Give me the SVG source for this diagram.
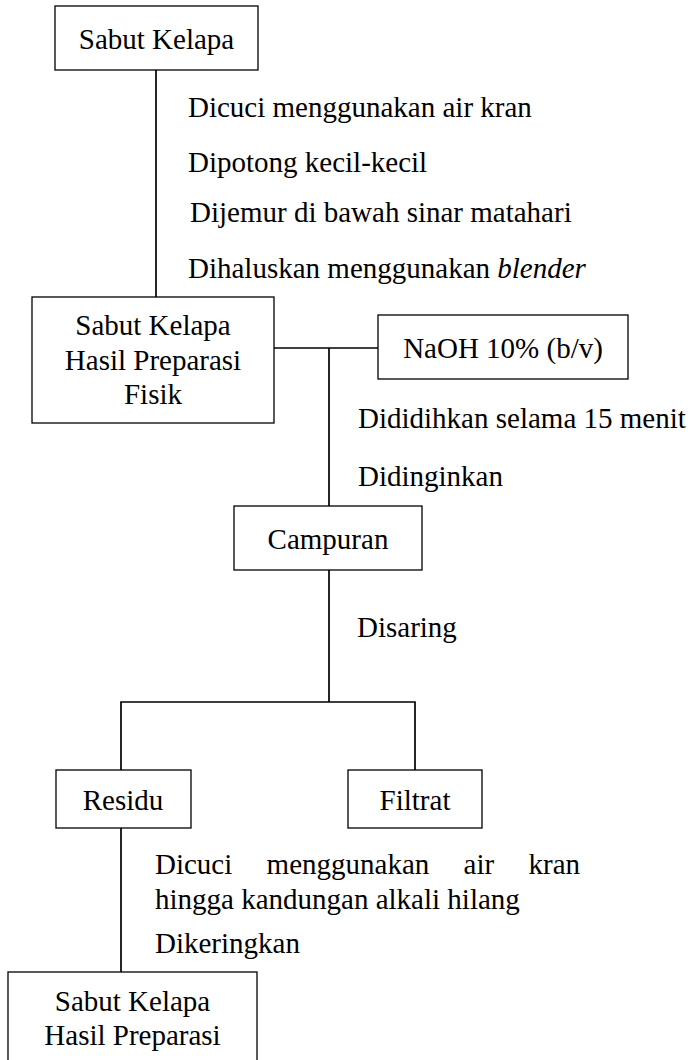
<svg xmlns="http://www.w3.org/2000/svg" width="693" height="1060" viewBox="0 0 693 1060">
<style>
text{font-family:"Liberation Serif","Times New Roman",serif;font-size:29px;fill:#000}
.c{text-anchor:middle}
.box{fill:#fff;stroke:#000;stroke-width:1.3}
.ln{fill:none;stroke:#000;stroke-width:1.7}
</style>
<rect width="693" height="1060" fill="#fff"/>
<g id="connectors">
<line class="ln" x1="156" y1="70" x2="156" y2="297"/>
<line class="ln" x1="274" y1="348" x2="378" y2="348"/>
<line class="ln" x1="329" y1="348" x2="329" y2="506"/>
<line class="ln" x1="329" y1="570" x2="329" y2="702"/>
<polyline class="ln" points="121,770 121,702 415,702 415,770"/>
<line class="ln" x1="121" y1="828" x2="121" y2="972"/>
</g>
<g id="labels">
<text x="188" y="117">Dicuci menggunakan air kran</text>
<text x="188" y="172">Dipotong kecil-kecil</text>
<text x="190" y="222">Dijemur di bawah sinar matahari</text>
<text x="188" y="278">Dihaluskan menggunakan <tspan font-style="italic">blender</tspan></text>
<text x="358" y="428">Dididihkan selama 15 menit</text>
<text x="358" y="486">Didinginkan</text>
<text x="357" y="637">Disaring</text>
<text y="874"><tspan x="155">Dicuci</tspan><tspan x="266.6">menggunakan</tspan><tspan x="463.6">air</tspan><tspan x="528.5">kran</tspan></text>
<text x="155" y="909">hingga kandungan alkali hilang</text>
<text x="155" y="953">Dikeringkan</text>
</g>
<g id="n-sabut">
<rect class="box" x="55" y="6" width="203" height="64"/>
<text class="c" x="156.5" y="49">Sabut Kelapa</text>
</g>
<g id="n-fisik">
<rect class="box" x="32" y="297" width="242" height="126"/>
<text class="c" x="153" y="335">Sabut Kelapa</text>
<text class="c" x="153" y="370">Hasil Preparasi</text>
<text class="c" x="153" y="404">Fisik</text>
</g>
<g id="n-naoh">
<rect class="box" x="378" y="315" width="250" height="64"/>
<text class="c" x="503" y="358">NaOH 10% (b/v)</text>
</g>
<g id="n-campuran">
<rect class="box" x="234" y="506" width="188" height="64"/>
<text class="c" x="328" y="549">Campuran</text>
</g>
<g id="n-residu">
<rect class="box" x="56" y="770" width="135" height="58"/>
<text class="c" x="123" y="810">Residu</text>
</g>
<g id="n-filtrat">
<rect class="box" x="348" y="770" width="134" height="58"/>
<text class="c" x="415" y="810">Filtrat</text>
</g>
<g id="n-hasil">
<rect class="box" x="8" y="972" width="249" height="100"/>
<text class="c" x="132.5" y="1011">Sabut Kelapa</text>
<text class="c" x="132.5" y="1045">Hasil Preparasi</text>
</g>
</svg>
